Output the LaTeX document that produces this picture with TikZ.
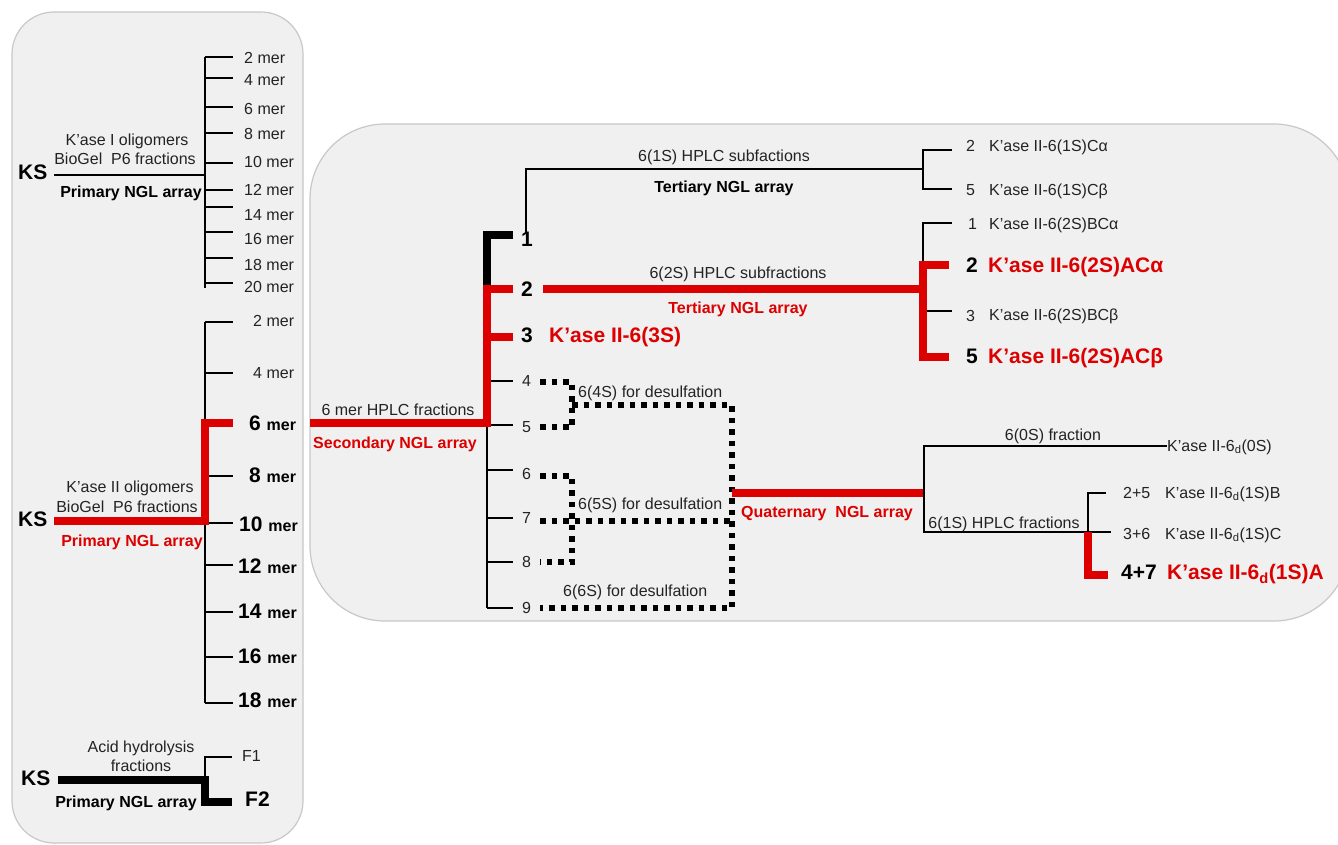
\documentclass[tikz,border=0pt]{standalone}
\usepackage{fontspec}
\setmainfont{Liberation Sans}
\definecolor{nglred}{RGB}{221,0,0}
\definecolor{panelfill}{RGB}{240,240,240}
\definecolor{panelline}{RGB}{200,200,200}
\definecolor{txt}{RGB}{35,35,35}
\newcommand{\bigb}{\fontsize{21}{25}\selectfont\bfseries}
\newcommand{\nrm}{\fontsize{16}{19}\selectfont}
\begin{document}
\begin{tikzpicture}[x=1pt,y=-1pt,
  thinline/.style={line width=1.5pt, draw=black},
  redthick/.style={line width=7.5pt, draw=nglred},
  blkthick/.style={line width=7.5pt, draw=black},
  dotline/.style={line width=5.5pt, draw=black, dash pattern=on 5.5pt off 6pt},
  panel/.style={draw=panelline, line width=1.2pt, fill=panelfill},
  lab/.style={inner sep=0pt, text=txt, font=\nrm, yshift=-1.5pt},
  blab/.style={inner sep=0pt, text=black, font=\nrm\bfseries, yshift=-1.5pt},
  rlab/.style={inner sep=0pt, text=nglred, font=\nrm\bfseries, yshift=-1.5pt},
  biglab/.style={inner sep=0pt, text=black, font=\bigb, yshift=-2pt},
  bigred/.style={inner sep=0pt, text=nglred, font=\bigb, yshift=-2pt},
  W/.style={anchor=mid west},
]
\useasboundingbox (0,0) rectangle (1338,845);
\fill[white] (0,0) rectangle (1338,845);
\draw[panel, rounded corners=42pt] (12,12) rectangle (303,843);
\begin{scope}
\clip (0,0) rectangle (1338,845);
\draw[panel, rounded corners=75pt] (310,124) rectangle (1349,621);
\end{scope}

% ---------------- Left top: K'ase I ----------------
\node[biglab, W] (ks1) at (18,175) {KS};
\coordinate (a0) at (205,57);
\coordinate (a1) at (205,288);
\coordinate (ah) at (205,175);
\coordinate (ks1e) at (54,175);
\draw[thinline] (a0) -- (a1);
\draw[thinline] (ks1e) -- (ah);
\node[lab] (k1a) at (127,140) {K’ase I oligomers};
\node[lab] (k1b) at (125,157) {BioGel\ \ P6 fractions};
\node[blab] (k1c) at (131,192) {Primary NGL array};
\foreach \n/\ty/\ly in {2/57/59,4/78/81,6/107/110,8/133/135,10/163/163,12/190/191,14/207/216,16/232/240,18/258/266,20/283/288}{
  \node[lab, W] (am\n) at (244,\ly) {\n\ mer};
  \coordinate (at\n) at (233,\ty);
  \draw[thinline] (at\n -| a0) -- (at\n);
}

% ---------------- Left middle: K'ase II ----------------
\node[biglab, W] (ks2) at (18,522) {KS};
\coordinate (b0) at (205,322);
\coordinate (b1) at (205,703);
\draw[thinline] (b0) -- (b1);
\foreach \n/\ty/\ly/\lx in {2/322/322/253,4/373/374/253}{
  \node[lab, W] (bm\n) at (\lx,\ly) {\n\ mer};
  \coordinate (bt\n) at (233,\ty);
  \draw[thinline] (bt\n -| b0) -- (bt\n);
}
\foreach \n/\ty/\ly/\lx in {8/476/478/249,10/523/527/239,12/565/569/238,14/612/614/238,16/657/659/238,18/703/703/238}{
  \node[biglab, W] (bm\n) at (\lx,\ly) {\n\ {\nrm\bfseries mer}};
  \coordinate (bt\n) at (233,\ty);
  \draw[thinline] (bt\n -| b0) -- (bt\n);
}
\node[biglab, W] (bm6) at (249,426) {6\ {\nrm\bfseries mer}};
\coordinate (ks2e) at (54,521);
\coordinate (bj) at (205,521);
\coordinate (bj6) at (205,423);
\coordinate (bt6) at (233,423);
\draw[redthick] (ks2e) -- (bj) -- (bj6) -- (bt6);
\node[lab] (k2a) at (130,487) {K’ase II oligomers};
\node[lab] (k2b) at (127,505) {BioGel\ \ P6 fractions};
\node[rlab] (k2c) at (132,541) {Primary NGL array};

% ---------------- Left bottom: acid hydrolysis ----------------
\node[biglab, W] (ks3) at (21,781) {KS};
\node[lab] (ah1) at (141,747) {Acid hydrolysis};
\node[lab] (ah2) at (141,764) {fractions};
\node[blab] (ah3) at (126,802) {Primary NGL array};
\node[lab, W] (f1) at (242,757) {F1};
\node[biglab, W] (f2) at (245,802) {F2};
\coordinate (ks3e) at (58,780);
\coordinate (cj) at (205,780);
\coordinate (cj1) at (205,757);
\coordinate (cf1) at (232,757);
\coordinate (cj2) at (205,802);
\coordinate (cf2) at (232,802);
\draw[thinline] (cj) -- (cj1) -- (cf1);
\draw[blkthick] (ks3e) -- (cj) -- (cj2) -- (cf2);

% ---------------- Secondary NGL array ----------------
\node[lab] (s6a) at (398,408) {6 mer HPLC fractions};
\node[rlab] (s6b) at (395,443) {Secondary NGL array};
\coordinate (s0) at (310,423);
\coordinate (sj) at (487,423);
\coordinate (sj2) at (487,289);
\coordinate (st2) at (513,289);
\coordinate (sj3) at (487,337);
\coordinate (st3) at (513,337);
\coordinate (sj1) at (487,235);
\coordinate (sj1b) at (487,286);
\coordinate (st1) at (513,235);
\coordinate (sbot) at (487,608);
\draw[thinline] (sj) -- (sbot);
\foreach \n/\ty/\ly in {4/381/382,5/425/428,6/470/475,7/518/519,8/562/563,9/608/609}{
  \node[lab, W] (sn\n) at (522,\ly) {\n};
  \coordinate (st\n) at (513,\ty);
  \draw[thinline] (st\n -| sj) -- (st\n);
}
\draw[blkthick] (st1) -- (sj1) -- (sj1b);
\draw[redthick] (s0) -- (sj) -- (sj2) -- (st2);
\draw[redthick] (sj3) -- (st3);
\node[biglab, W] (sn1) at (521,242) {1};
\node[biglab, W] (sn2) at (521,292) {2};
\node[biglab, W] (sn3) at (521,338) {3};
\node[bigred, W] (k3s) at (549,338) {K’ase II-6(3S)};

% ---------------- desulfation (dotted) ----------------
\coordinate (d4) at (540,382);
\coordinate (d4c) at (572,382);
\coordinate (d5) at (540,427);
\coordinate (d5c) at (572,427);
\coordinate (d45) at (572,405);
\coordinate (dR45) at (732,405);
\coordinate (d6) at (540,476);
\coordinate (d6c) at (572,476);
\coordinate (d8) at (540,562);
\coordinate (d8c) at (572,562);
\coordinate (d7) at (540,521);
\coordinate (dR7) at (732,521);
\coordinate (d9) at (540,608);
\coordinate (dR9) at (732,608);
\draw[dotline] (d4) -- (d4c) -- (d5c) -- (d5);
\draw[dotline] (d45) -- (dR45) -- (dR9) -- (d9);
\draw[dotline] (d6) -- (d6c) -- (d8c) -- (d8);
\draw[dotline] (d7) -- (dR7);
\node[lab, W] (ds4) at (578,393) {6(4S) for desulfation};
\node[lab, W] (ds5) at (578,505) {6(5S) for desulfation};
\node[lab, W] (ds6) at (563,592) {6(6S) for desulfation};

% ---------------- Tertiary 1S ----------------
\coordinate (u0) at (526,232);
\coordinate (u1) at (526,169);
\coordinate (uj) at (923,169);
\coordinate (ub1) at (923,150);
\coordinate (ub2) at (923,189);
\coordinate (ut1) at (952,150);
\coordinate (ut2) at (952,189);
\draw[thinline] (u0) -- (u1) -- (uj);
\draw[thinline] (ut1) -- (ub1) -- (ub2) -- (ut2);
\node[lab] (u1a) at (724,156) {6(1S) HPLC subfactions};
\node[blab] (u1b) at (724,187) {Tertiary NGL array};
\node[lab, W] (un2) at (966,147) {2};
\node[lab, W] (uk2) at (989,147) {K’ase II-6(1S)Cα};
\node[lab, W] (un5) at (966,191) {5};
\node[lab, W] (uk5) at (989,191) {K’ase II-6(1S)Cβ};

% ---------------- Tertiary 2S ----------------
\coordinate (v0) at (543,289);
\coordinate (vj) at (923,289);
\coordinate (vb1) at (923,223);
\coordinate (vb2) at (923,265);
\coordinate (vb3) at (923,311);
\coordinate (vb5) at (923,357);
\coordinate (vt1) at (952,223);
\coordinate (vt2) at (949,265);
\coordinate (vt3) at (952,311);
\coordinate (vt5) at (949,357);
\draw[thinline] (vt1) -- (vb1) -- (vb2);
\draw[thinline] (vb3) -- (vt3);
\draw[redthick] (v0) -- (vj);
\draw[redthick] (vt2) -- (vb2) -- (vb5) -- (vt5);
\node[lab] (v2a) at (738,273) {6(2S) HPLC subfractions};
\node[rlab] (v2b) at (738,308) {Tertiary NGL array};
\node[lab, W] (vn1) at (968,225) {1};
\node[lab, W] (vk1) at (989,225) {K’ase II-6(2S)BCα};
\node[biglab, W] (vn2) at (966,268) {2};
\node[bigred, W] (vk2) at (988,268) {K’ase II-6(2S)ACα};
\node[lab, W] (vn3) at (966,317) {3};
\node[lab, W] (vk3) at (989,316) {K’ase II-6(2S)BCβ};
\node[biglab, W] (vn5) at (966,359) {5};
\node[bigred, W] (vk5) at (988,359) {K’ase II-6(2S)ACβ};

% ---------------- Quaternary ----------------
\coordinate (q0) at (732,493);
\coordinate (qj) at (924,493);
\coordinate (qt) at (924,446);
\coordinate (qb) at (924,533);
\coordinate (qb2) at (924,532);
\coordinate (qr) at (1111,532);
\coordinate (qs1) at (1088,493);
\coordinate (qs1e) at (1106,493);
\coordinate (qs2) at (1088,532);
\coordinate (qs3) at (1088,575);
\coordinate (qs3e) at (1108,575);
\draw[redthick] (q0) -- (qj);
\node[rlab, W] (qa) at (741,513) {Quaternary\ \ NGL array};
\node[lab, W] (qk0) at (1167,447) {K’ase II-6\textsubscript{d}(0S)};
\coordinate (qk0w) at (1167,446);
\draw[thinline] (qb) -- (qt) -- (qk0w);
\draw[thinline] (qb2) -- (qr);
\draw[thinline] (qs1e) -- (qs1) -- (qs2);
\draw[redthick] (qs2) -- (qs3) -- (qs3e);
\node[lab] (q0s) at (1053,435) {6(0S) fraction};
\node[lab] (q1s) at (1004,523) {6(1S) HPLC fractions};
\node[lab, W] (qn25) at (1123,494) {2+5};
\node[lab, W] (qkB) at (1165,494) {K’ase II-6\textsubscript{d}(1S)B};
\node[lab, W] (qn36) at (1123,535) {3+6};
\node[lab, W] (qkC) at (1165,535) {K’ase II-6\textsubscript{d}(1S)C};
\node[biglab, W] (qn47) at (1121,575) {4+7};
\node[bigred, W] (qkA) at (1167,575) {K’ase II-6\textsubscript{d}(1S)A};
\end{tikzpicture}
\end{document}
